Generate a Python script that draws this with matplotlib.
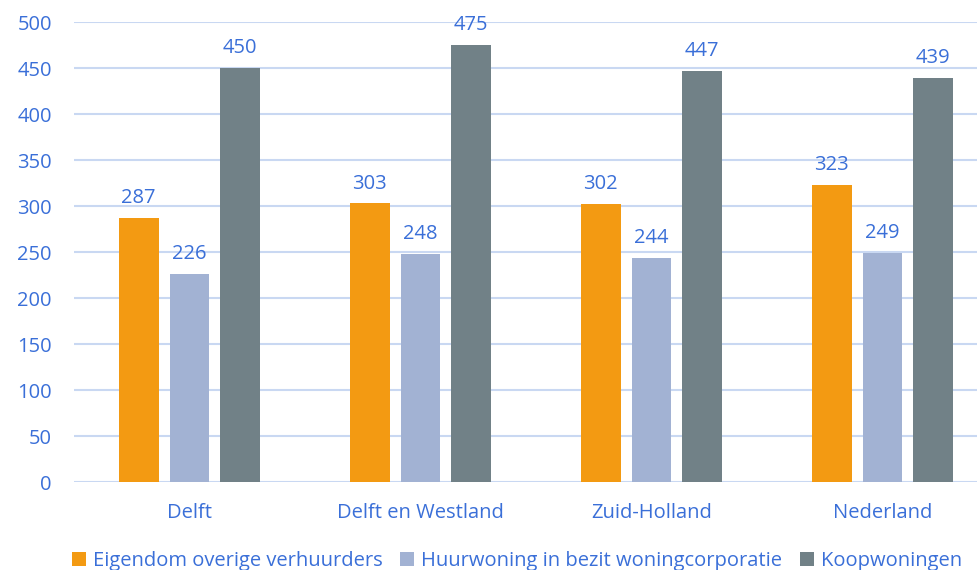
import matplotlib.pyplot as plt
import numpy as np

regions = ["Delft", "Delft en Westland", "Zuid-Holland", "Nederland"]
series_names = ["Eigendom overige verhuurders",
                "Huurwoning in bezit woningcorporatie",
                "Koopwoningen"]
eigendom = [287, 303, 302, 323]
huur_corp = [226, 248, 244, 249]
koop = [450, 475, 447, 439]

colors = ["#F39A12", "#A2B2D3", "#718187"]
text_blue = "#3A6FD8"
grid_col = "#C9D8F2"

plt.rcParams["font.family"] = ["Open Sans", "DejaVu Sans"]
fs = 14.5

fig = plt.figure(figsize=(9.78, 5.70), dpi=100)
ax = fig.add_axes([74 / 978, 1 - 482 / 570, 1 - 74 / 978, 460 / 570])

x = np.arange(len(regions))
width = 0.173
offset = 0.22
for i, (vals, name) in enumerate(zip([eigendom, huur_corp, koop], series_names)):
    pos = x + (i - 1) * offset
    bars = ax.bar(pos, vals, width, color=colors[i], label=name, zorder=3)
    for b, v in zip(bars, vals):
        ax.annotate(str(v), (b.get_x() + b.get_width() / 2, v),
                    xytext=(0, 7), textcoords="offset points",
                    ha="center", va="bottom", color=text_blue, fontsize=fs)

ax.set_ylim(0, 500)
ax.set_yticks(range(0, 501, 50))
ax.set_xlim(-0.5, 3.5 - 20 / 231)
ax.set_xticks(x)
ax.set_xticklabels(regions)
ax.yaxis.grid(True, color=grid_col, linewidth=1.5, zorder=0)
for s in ax.spines.values():
    s.set_visible(False)
ax.tick_params(axis="both", length=0, colors=text_blue, labelsize=fs)
ax.tick_params(axis="y", pad=16)
ax.tick_params(axis="x", pad=15)

handles, labels = ax.get_legend_handles_labels()
fig.legend(handles, labels, loc="center", bbox_to_anchor=(517 / 978, 1 - 561 / 570),
           ncol=3, frameon=False, fontsize=fs, handlelength=0.7, handleheight=0.7,
           handletextpad=0.35, columnspacing=0.85, labelcolor=text_blue)

fig.savefig("out.png", dpi=100)
